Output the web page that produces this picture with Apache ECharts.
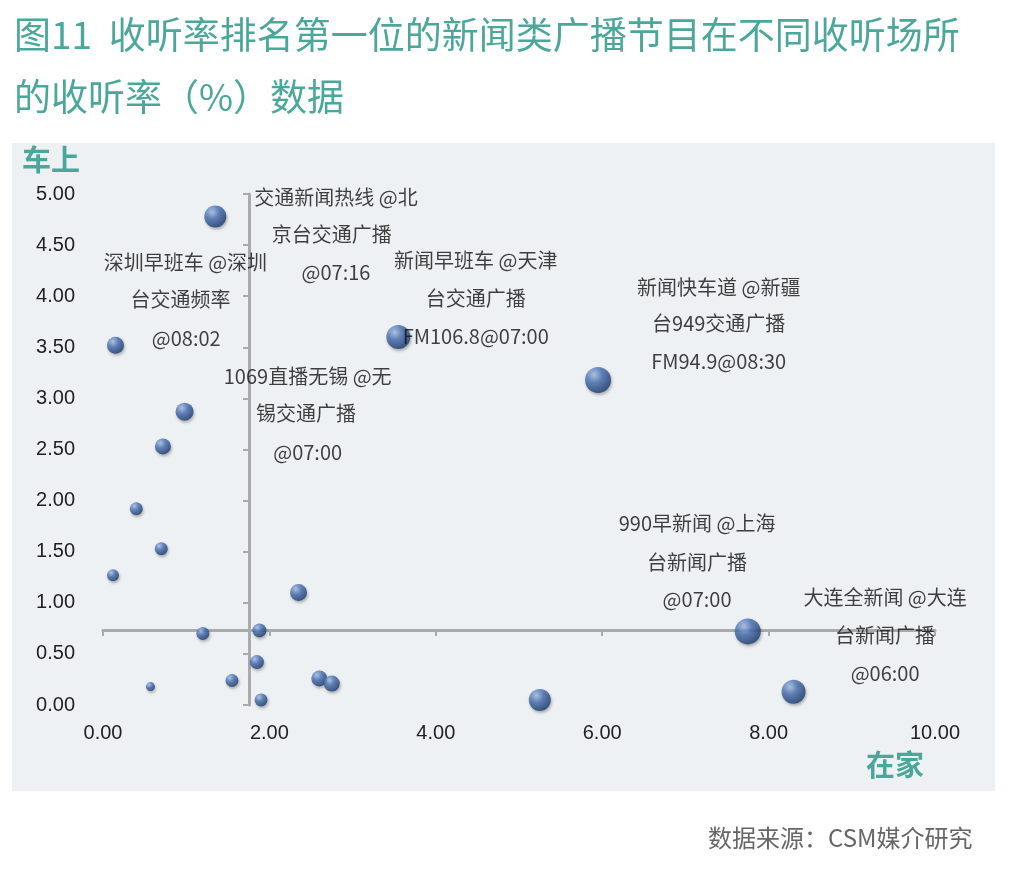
<!DOCTYPE html>
<html><head><meta charset="utf-8">
<script src="https://cdn.jsdelivr.net/npm/echarts@6/dist/echarts.min.js"></script>
<style>html,body{margin:0;background:#fff}#c{width:1036px;height:876px}</style>
</head><body><div id="c"></div>
<script>
const xVals=[1.35,0.15,3.55,5.95,0.98,0.72,0.40,0.70,0.12,2.35,1.20,1.88,1.85,1.55,2.60,2.75,0.57,1.90,5.25,7.75,8.30];
const yVals=[4.78,3.52,3.60,3.18,2.87,2.53,1.92,1.53,1.27,1.10,0.70,0.73,0.42,0.24,0.26,0.21,0.18,0.05,0.05,0.72,0.13];
const sizes=[22,17,24,26,18,16,13,13,12,17,13,14,14,13,16,16,9,13,22,26,24];
const labelTexts=["交通新闻热线 @北","京台交通广播","@07:16","深圳早班车 @深圳","台交通频率","@08:02","新闻早班车 @天津","台交通广播","FM106.8@07:00","新闻快车道 @新疆","台949交通广播","FM94.9@08:30","1069直播无锡 @无","锡交通广播","@07:00","990早新闻 @上海","台新闻广播","@07:00","大连全新闻 @大连","台新闻广播","@06:00"];
const labelX=[2.8,2.75,2.8,0.99,0.93,1.0,4.48,4.48,4.48,7.4,7.4,7.4,2.46,2.44,2.46,7.14,7.14,7.14,9.4,9.4,9.4];
const labelY=[4.97,4.60,4.23,4.33,3.97,3.59,4.35,3.98,3.61,4.09,3.73,3.36,3.22,2.85,2.47,1.78,1.40,1.03,1.05,0.68,0.31];
const teal='#4aa79a';
const chart=echarts.init(document.getElementById('c'));
const font='"Noto Sans CJK SC","Noto Sans",sans-serif';
chart.setOption({
 backgroundColor:'#fff',
 graphic:[
  {type:'rect',shape:{x:12,y:143,width:983,height:648},style:{fill:'#eef1f3'},z:-10},
  {type:'text',left:14,top:16,style:{text:'图11  收听率排名第一位的新闻类广播节目在不同收听场所',font:'37px '+font,fill:teal}},
  {type:'text',left:14,top:78,style:{text:'的收听率（%）数据',font:'37px '+font,fill:teal}},
  {type:'text',left:22,top:145,style:{text:'车上',font:'bold 29px '+font,fill:teal}},
  {type:'text',left:866,top:750,style:{text:'在家',font:'bold 29px '+font,fill:teal}},
  {type:'text',left:708,top:826,style:{text:'数据来源：CSM媒介研究',font:'24px '+font,fill:'#666'}}
 ],
 grid:{left:103,right:101,top:194,bottom:171},
 xAxis:[
  {type:'value',min:0,max:10,interval:2,axisLine:{show:false},axisTick:{show:false},splitLine:{show:false},
   axisLabel:{formatter:v=>v.toFixed(2),fontSize:20,color:'#222',fontFamily:'Liberation Sans',margin:18}},
  {type:'value',min:0,max:10,interval:2,position:'bottom',offset:-75,axisLine:{show:true,onZero:false,lineStyle:{color:'#aaa',width:3}},
   axisTick:{show:true,length:6,lineStyle:{color:'#aaa',width:2}},axisLabel:{show:false},splitLine:{show:false}}
 ],
 yAxis:[
  {type:'value',min:0,max:5,interval:0.5,axisLine:{show:false},axisTick:{show:false},splitLine:{show:false},
   axisLabel:{formatter:v=>v.toFixed(2),fontSize:20,color:'#222',fontFamily:'Liberation Sans',margin:28}},
  {type:'value',min:0,max:5,interval:0.5,position:'left',offset:-146,axisLine:{show:true,onZero:false,lineStyle:{color:'#aaa',width:3}},
   axisTick:{show:true,length:6,lineStyle:{color:'#aaa',width:2}},axisLabel:{show:false},splitLine:{show:false}}
 ],
 series:[
  {type:'scatter',data:xVals.map((x,i)=>[x,yVals[i],sizes[i]]),symbolSize:d=>d[2],z:5,
   itemStyle:{color:new echarts.graphic.RadialGradient(0.35,0.3,0.7,[{offset:0,color:'#a9c4ec'},{offset:0.45,color:'#4a72b5'},{offset:1,color:'#1f3e73'}]),
   shadowColor:'rgba(0,0,0,0.35)',shadowBlur:3,shadowOffsetX:1,shadowOffsetY:2}},
  {type:'scatter',data:labelX.map((x,i)=>[x,labelY[i]]),symbolSize:0,silent:true,z:6,
   label:{show:true,position:'inside',formatter:p=>labelTexts[p.dataIndex],fontSize:20,color:'#111',fontFamily:font}}
 ]
});
</script></body></html>
